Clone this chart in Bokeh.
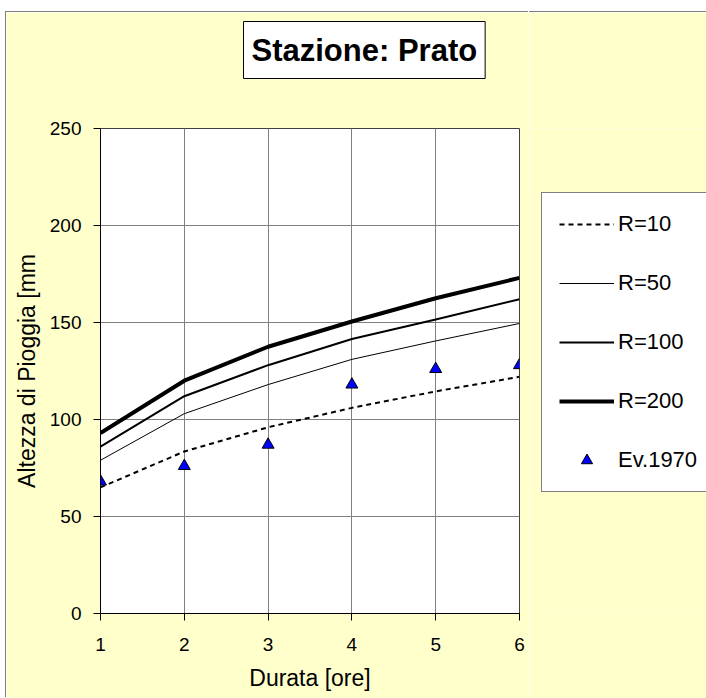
from bokeh.plotting import figure
from bokeh.layouts import row
from bokeh.models import Range1d, Title, Legend, LegendItem, FixedTicker
from bokeh.embed import file_html
from bokeh.resources import INLINE

durata = [1, 2, 3, 4, 5, 6]
r10 = [65, 83.5, 96, 106, 114.5, 122]
r50 = [79, 103, 118, 131, 140.5, 149.5]
r100 = [86, 112, 128, 141.5, 151.5, 162]
r200 = [93, 120, 137.5, 150.5, 162.5, 173]
ev1970 = [68, 76, 87, 118, 126, 128]
y_ticks = [0, 50, 100, 150, 200, 250]
title_text = "Stazione: Prato"
names = ["R=10", "R=50", "R=100", "R=200", "Ev.1970"]

FONT = "Liberation Sans"
BG = "#FFFFCC"

p = figure(width=523, height=686, output_backend="svg", toolbar_location=None,
           x_range=Range1d(1, 6), y_range=Range1d(0, 250),
           min_border_left=94, min_border_top=116, min_border_right=10, min_border_bottom=85,
           background_fill_color="white", border_fill_color=BG,
           margin=(12, 0, 0, 6))
p.styles = {"box-shadow": "-1px -1px 0 0 #808080"}
p.outline_line_color = "#404040"
p.outline_line_width = 1

for ax in (p.xaxis, p.yaxis):
    ax.axis_line_color = "black"
    ax.major_tick_line_color = "black"
    ax.major_tick_out = 7
    ax.major_tick_in = 0
    ax.minor_tick_line_color = None
    ax.major_label_text_font = FONT
    ax.major_label_text_font_size = "19px"
    ax.major_label_text_color = "black"
    ax.axis_label_text_font = FONT
    ax.axis_label_text_font_size = "23px"
    ax.axis_label_text_font_style = "normal"
    ax.axis_label_text_color = "black"

p.xaxis.ticker = FixedTicker(ticks=durata)
p.yaxis.ticker = FixedTicker(ticks=y_ticks)
p.xaxis.axis_label = "Durata [ore]"
p.yaxis.axis_label = "Altezza di Pioggia [mm"
p.xaxis.major_label_standoff = 17
p.yaxis.major_label_standoff = 12
p.xaxis.axis_label_standoff = 11
p.yaxis.axis_label_standoff = 7

p.xgrid.grid_line_color = "#808080"
p.ygrid.grid_line_color = "#808080"
p.xgrid.grid_line_width = 1
p.ygrid.grid_line_width = 1

styles = [
    dict(line_color="black", line_width=2, line_dash="5 4"),
    dict(line_color="black", line_width=1),
    dict(line_color="black", line_width=2),
    dict(line_color="black", line_width=4),
]
series = [r10, r50, r100, r200]
marker_style = dict(marker="triangle", size=12, fill_color="#0000FF",
                    line_color="black", line_width=1)

for s, st in zip(series, styles):
    p.line(durata, s, **st)
p.scatter(durata, ev1970, **marker_style)

# empty spacer title (closest to the plot area) then the boxed title
spacer = Title(text=" ", text_font=FONT, text_font_size="10px", standoff=37,
               text_color=BG)
p.add_layout(spacer, "above")
title = Title(text=title_text, text_font=FONT, text_font_size="31px",
              text_font_style="bold", text_color="black", align="left",
              vertical_align="bottom", offset=143, standoff=0,
              background_fill_color="white",
              border_line_color="black", border_line_width=1, padding=(8, 11))
p.add_layout(title, "above")

# Legend panel (separate canvas to the right of the plot area)
lg = figure(width=177, height=686, output_backend="svg", toolbar_location=None,
            x_range=Range1d(100, 101), y_range=Range1d(1000, 1001),
            x_axis_type=None, y_axis_type=None,
            min_border_left=0, min_border_right=0, min_border_top=0, min_border_bottom=0,
            background_fill_color=BG, border_fill_color=BG,
            margin=(12, 0, 0, 0))
lg.styles = {"box-shadow": "0 -1px 0 0 #808080"}
lg.outline_line_color = None
lg.grid.visible = False

rends = [lg.line(durata, s, **st) for s, st in zip(series, styles)]
rends.append(lg.scatter(durata, ev1970, **marker_style))

legend = Legend(items=[LegendItem(label=n, renderers=[r]) for n, r in zip(names, rends)],
                location=(12, 121))
legend.glyph_width = 55
legend.glyph_height = 28
legend.label_height = 28
legend.label_width = 90
legend.spacing = 31
legend.padding = 17
legend.margin = 0
legend.label_standoff = 4
legend.label_text_font = FONT
legend.label_text_font_size = "22px"
legend.label_text_color = "black"
legend.border_line_color = "black"
legend.border_line_width = 1
legend.background_fill_color = "white"
legend.background_fill_alpha = 1
lg.add_layout(legend)

layout = row(p, lg, spacing=0)
open("out.html", "w").write(file_html(layout, INLINE))
